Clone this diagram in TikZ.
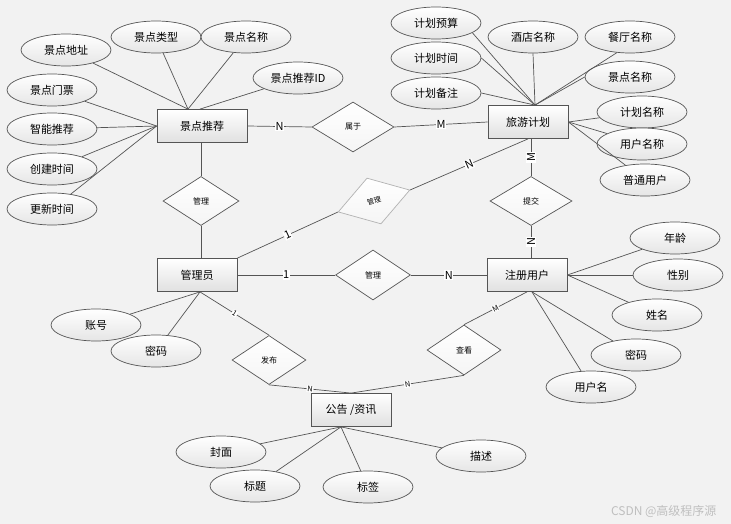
\documentclass[tikz,border=0pt]{standalone}
\usepackage{fontspec}
\setmainfont{Noto Sans CJK SC}
\usepackage{tikz}
\usetikzlibrary{shapes.geometric}
\definecolor{bggray}{HTML}{F2F2F2}
\definecolor{linegray}{HTML}{555555}

\begin{document}
\begin{tikzpicture}[x=1pt,y=-1pt]
\tikzset{entity/.style={draw=linegray,line width=0.8pt,top color=white,bottom color=black!12,minimum width=80pt,minimum height=33pt,inner sep=0pt,font=\fontsize{11}{13}\selectfont}}
\tikzset{attr/.style={ellipse,draw=linegray,line width=0.7pt,top color=white,bottom color=black!10,minimum width=90pt,minimum height=32pt,inner sep=0pt,font=\fontsize{11}{13}\selectfont}}
\tikzset{rel/.style={diamond,draw=linegray,line width=0.7pt,top color=white,bottom color=black!4,minimum width=76pt,minimum height=49pt,inner sep=0pt,font=\fontsize{8}{10}\selectfont}}
\tikzset{link/.style={draw=linegray,line width=0.7pt}}
\tikzset{card/.style={fill=white,inner sep=0.6pt,font=\fontsize{11}{13}\selectfont}}
\tikzset{small card/.style={card,font=\fontsize{7.5}{9}\selectfont}}
\useasboundingbox (0,0) rectangle (731,524);
\fill[bggray] (0,0) rectangle (731,524);
% entities
\node[entity,minimum width=90pt] (jdtj) at (202,126) {景点推荐};
\node[entity] (lyjh) at (528,122) {旅游计划};
\node[entity] (gly) at (197,275) {管理员};
\node[entity] (zcyh) at (527,275) {注册用户};
\node[entity] (gg) at (351,410) {公告 /资讯};
% relations
\node[rel,minimum width=82pt,minimum height=50pt] (shuyu) at (353,127) {属于};
\node[rel] (gl1) at (201,201) {管理};
\node[rel,minimum width=82pt] (tj) at (531,201) {提交};
\node[rel,minimum width=75pt,minimum height=50pt] (gl3) at (373,275) {管理};
\node[rel,minimum width=74pt] (fb) at (269,360) {发布};
\node[rel,minimum width=74pt,minimum height=50pt] (ck) at (464,350) {查看};
\node[rel,draw=black!30,minimum width=75pt,minimum height=48pt,rotate=17,font=\fontsize{7}{8}\selectfont] (gl2) at (374,201) {管理};
% attributes
\node[attr] (jddz) at (66,50) {景点地址};
\node[attr] (jdlx) at (156,37) {景点类型};
\node[attr] (jdmc) at (246,37) {景点名称};
\node[attr] (jdid) at (298,78) {景点推荐ID};
\node[attr] (jdmp) at (52,90) {景点门票};
\node[attr] (zntj) at (52,129) {智能推荐};
\node[attr] (cjsj) at (52,169) {创建时间};
\node[attr] (gxsj) at (52,209) {更新时间};
\node[attr] (jhys) at (436,23) {计划预算};
\node[attr] (jdmc2) at (533,37) {酒店名称};
\node[attr] (ctmc) at (630,37) {餐厅名称};
\node[attr] (jhsj) at (436,58) {计划时间};
\node[attr] (jdmc3) at (630,77) {景点名称};
\node[attr] (jhbz) at (436,93) {计划备注};
\node[attr] (jhmc) at (642,112) {计划名称};
\node[attr] (yhmc) at (642,144) {用户名称};
\node[attr] (ptyh) at (645,180) {普通用户};
\node[attr] (zh) at (96,325) {账号};
\node[attr] (mm) at (156,351) {密码};
\node[attr] (nl) at (675,238) {年龄};
\node[attr] (xb) at (678,275) {性别};
\node[attr] (xm) at (657,315) {姓名};
\node[attr] (mm2) at (636,355) {密码};
\node[attr] (yhm) at (591,387) {用户名};
\node[attr] (fm) at (221,452) {封面};
\node[attr] (bt) at (255,486) {标题};
\node[attr] (bq) at (368,487) {标签};
\node[attr] (ms) at (481,456) {描述};
% attribute links
\foreach \a in {jddz,jdlx,jdmc} \draw[link] (\a) -- ([xshift=-14pt]jdtj.north);
\draw[link] (jdid) -- ([xshift=-2pt]jdtj.north);
\foreach \a in {jdmp,zntj,cjsj,gxsj} \draw[link] (\a) -- (jdtj.west);
\foreach \a in {jhys.-15,jhsj.east,jhbz.east,jdmc2.south,ctmc.230,jdmc3.west} \draw[link] (\a) -- ([xshift=7pt]lyjh.north);
\foreach \a in {jhmc,yhmc,ptyh} \draw[link] (\a) -- (lyjh.east);
\foreach \a in {zh,mm} \draw[link] (\a) -- ([xshift=3pt]gly.south);
\foreach \a in {nl,xb,xm} \draw[link] (\a) -- (zcyh.east);
\foreach \a in {mm2,yhm} \draw[link] (\a) -- ([xshift=5pt]zcyh.south);
\foreach \a in {fm,bt,bq,ms} \draw[link] (\a) -- ([xshift=-10pt]gg.south);
% relation links
\draw[link] (jdtj.east) -- node[card] {N} (shuyu.west);
\draw[link] (shuyu.east) -- node[card] {M} (lyjh.west);
\draw[link] (tj.north |- lyjh.south) -- node[card,rotate=90] {M} (tj.north);
\draw[link] (tj.south) -- node[card,rotate=90] {N} (tj.south |- zcyh.north);
\draw[link] (jdtj.south -| gl1.north) -- (gl1.north);
\draw[link] (gl1.south) -- (gl1.south |- gly.north);
\draw[link] (gly.east) -- node[card] {1} (gl3.west);
\draw[link] (gl3.east) -- node[card] {N} (zcyh.west);
\draw[link] (gly.north east) -- node[card,sloped] {1} (gl2.west);
\draw[link] (gl2.east) -- node[card,sloped] {N} (lyjh.south);
\draw[link] ([xshift=3pt]gly.south) -- node[small card,sloped] {1} (fb.north);
\draw[link] (fb.south) -- node[small card,sloped] {N} (gg.north);
\draw[link] (zcyh.south) -- node[small card,sloped] {M} (ck.north);
\draw[link] (ck.south) -- node[small card,sloped] {N} (gg.north);
\node[anchor=east,text=black!25,font=\fontsize{12}{14}\selectfont] (wm) at (720,511) {CSDN @高级程序源};
\end{tikzpicture}
\end{document}
